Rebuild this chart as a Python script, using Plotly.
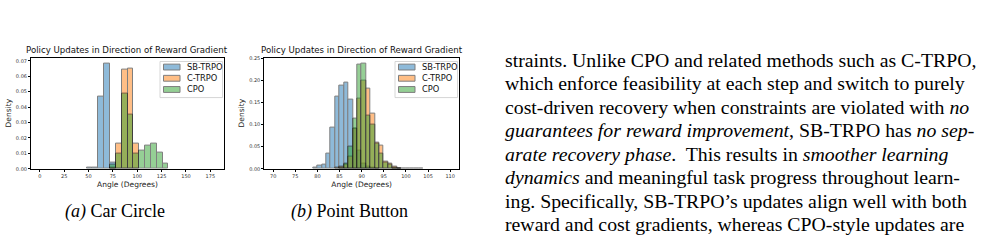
import plotly.graph_objects as go

# ---------------- data ----------------
series_names = ["SB-TRPO", "C-TRPO", "CPO"]
series_colors = ["#1f77b4", "#ff7f0e", "#2ca02c"]

# (a) Car Circle : bins of width 6 degrees
car_bin_left = [48, 54, 60, 66, 72, 78, 84, 90, 96, 102, 108, 114, 120, 126]
car_bin_width = 6
car_sb_trpo = [0.001, 0.001, 0.047, 0.068, 0.004, 0, 0, 0, 0, 0, 0, 0, 0, 0]
car_c_trpo = [0, 0, 0, 0, 0.001, 0.016, 0.064, 0.065, 0.016, 0, 0, 0, 0, 0]
car_cpo = [0, 0, 0, 0, 0.003, 0.0100, 0.049, 0.035, 0.010, 0.0115, 0.0150, 0.0163, 0.0105, 0.0035]

# (b) Point Button : bins of width 1 degree
pb_bin_left = list(range(79, 104))
pb_bin_width = 1
pb_sb_trpo = [0.002, 0.007, 0.009, 0.035, 0.094, 0.163, 0.188, 0.195, 0.157, 0.090,
              0.040, 0.012, 0.005, 0.002, 0.001, 0, 0, 0, 0.001, 0.001, 0.001, 0.001,
              0.001, 0.001, 0.001]
pb_c_trpo = [0, 0, 0, 0, 0, 0.002, 0.004, 0.010, 0.028, 0.090, 0.158, 0.199, 0.182,
             0.125, 0.060, 0.053, 0.016, 0.011, 0.004, 0.001, 0, 0, 0, 0, 0]
pb_cpo = [0, 0, 0, 0, 0, 0, 0.003, 0.012, 0.050, 0.113, 0.236, 0.239, 0.121, 0.100,
          0.058, 0.035, 0.013, 0.010, 0.003, 0.001, 0, 0, 0, 0, 0]

chart_title = "Policy Updates in Direction of Reward Gradient"
x_title = "Angle (Degrees)"
y_title = "Density"
car_xticks = [0, 25, 50, 75, 100, 125, 150, 175]
car_yticks = [0.00, 0.01, 0.02, 0.03, 0.04, 0.05, 0.06, 0.07]
pb_xticks = [70, 75, 80, 85, 90, 95, 100, 105, 110]
pb_yticks = [0.00, 0.05, 0.10, 0.15, 0.20, 0.25]

captions = ["<i>(a)</i> Car Circle", "<i>(b)</i> Point Button"]

paragraph_lines = [
    "straints. Unlike CPO and related methods such as C-TRPO,",
    "which enforce feasibility at each step and switch to purely",
    "cost-driven recovery when constraints are violated with <i>no</i>",
    "<i>guarantees for reward improvement</i>, SB-TRPO has <i>no sep-</i>",
    "<i>arate recovery phase</i>.  This results in <i>smoother learning</i>",
    "<i>dynamics</i> and meaningful task progress throughout learn-",
    "ing. Specifically, SB-TRPO\u2019s updates align well with both",
    "reward and cost gradients, whereas CPO-style updates are",
]

# ---------------- layout geometry (pixels) ----------------
W, H = 981, 240
ax_top, ax_bot = 56, 170
ax1 = (31, 224)
ax2 = (264.3, 459)


def xd(px):
    return px / W


def yd(py):
    return 1 - py / H


fig = go.Figure()

charts = [
    dict(lefts=car_bin_left, width=car_bin_width,
         vals=[car_sb_trpo, car_c_trpo, car_cpo], xa="x", ya="y", px=ax1),
    dict(lefts=pb_bin_left, width=pb_bin_width,
         vals=[pb_sb_trpo, pb_c_trpo, pb_cpo], xa="x2", ya="y2", px=ax2),
]

for ch in charts:
    for name, color, vals in zip(series_names, series_colors, ch["vals"]):
        xs = [l + ch["width"] / 2 for l, v in zip(ch["lefts"], vals) if v > 0]
        ys = [v for v in vals if v > 0]
        fig.add_trace(go.Bar(
            x=xs, y=ys, width=ch["width"], name=name,
            marker=dict(color=color, line=dict(color="black", width=1)),
            opacity=0.5, xaxis=ch["xa"], yaxis=ch["ya"], showlegend=False,
        ))

tick_font = dict(family="DejaVu Sans", size=5, color="#333")
lab_font = dict(family="DejaVu Sans", size=7.5, color="#222")
axis_common = dict(showline=True, linecolor="black", linewidth=1, mirror=True,
                   ticks="outside", ticklen=2, tickwidth=0.8, tickcolor="black",
                   showgrid=False, zeroline=False, tickfont=tick_font,
                   title_font=lab_font)

fig.update_layout(
    width=W, height=H, margin=dict(l=0, r=0, t=0, b=0),
    paper_bgcolor="white", plot_bgcolor="white",
    barmode="overlay", bargap=0, showlegend=False,
    xaxis=dict(domain=[xd(ax1[0]), xd(ax1[1])], range=[-9, 189],
               tickvals=car_xticks, title=dict(text=x_title, standoff=3), anchor="y",
               **axis_common),
    yaxis=dict(domain=[yd(ax_bot), yd(ax_top)], range=[0, 0.0721],
               tickvals=car_yticks, tickformat=".2f",
               title=dict(text=y_title, standoff=3), anchor="x", **axis_common),
    xaxis2=dict(domain=[xd(ax2[0]), xd(ax2[1])], range=[68, 112],
                tickvals=pb_xticks, title=dict(text=x_title, standoff=3), anchor="y2",
                **axis_common),
    yaxis2=dict(domain=[yd(ax_bot), yd(ax_top)], range=[0, 0.2515],
                tickvals=pb_yticks, tickformat=".2f",
                title=dict(text=y_title, standoff=3), anchor="x2", **axis_common),
)

shapes = []
annotations = []

for ch in charts:
    l, r = ch["px"]
    # title
    annotations.append(dict(
        text=chart_title, xref="paper", yref="paper",
        x=xd((l + r) / 2), y=yd(ax_top - 1), xanchor="center", yanchor="bottom",
        showarrow=False, font=dict(family="DejaVu Sans", size=8.6, color="#111")))
    # legend
    bl, br = r - 64, r - 1.5
    bt, bb = ax_top + 4, ax_top + 41
    shapes.append(dict(type="rect", xref="paper", yref="paper",
                       x0=xd(bl), x1=xd(br), y0=yd(bb), y1=yd(bt),
                       line=dict(color="#cccccc", width=0.8),
                       fillcolor="rgba(255,255,255,0.8)", layer="above"))
    for i, (name, color) in enumerate(zip(series_names, series_colors)):
        cy = ax_top + 9.7 + i * 11.5
        shapes.append(dict(type="rect", xref="paper", yref="paper",
                           x0=xd(bl + 3.5), x1=xd(bl + 20), y0=yd(cy + 3), y1=yd(cy - 3),
                           line=dict(color="black", width=1), fillcolor=color,
                           opacity=0.5, layer="above"))
        annotations.append(dict(
            text=name, xref="paper", yref="paper", x=xd(bl + 24.5), y=yd(cy),
            xanchor="left", yanchor="middle", showarrow=False,
            font=dict(family="DejaVu Sans", size=8.3, color="#111")))

# captions
for cap, cx in zip(captions, [115, 349.5]):
    annotations.append(dict(
        text=cap, xref="paper", yref="paper", x=xd(cx), y=yd(214),
        xanchor="center", yanchor="middle", showarrow=False,
        font=dict(family="Liberation Serif", size=18, color="black")))

# paragraph
for i, line in enumerate(paragraph_lines):
    annotations.append(dict(
        text=line, xref="paper", yref="paper", x=xd(503), y=yd(58.3 + i * 24.05),
        xanchor="left", yanchor="middle", showarrow=False,
        font=dict(family="Liberation Serif", size=19.8, color="black")))

fig.update_layout(shapes=shapes, annotations=annotations)
fig.write_html("out.html")
